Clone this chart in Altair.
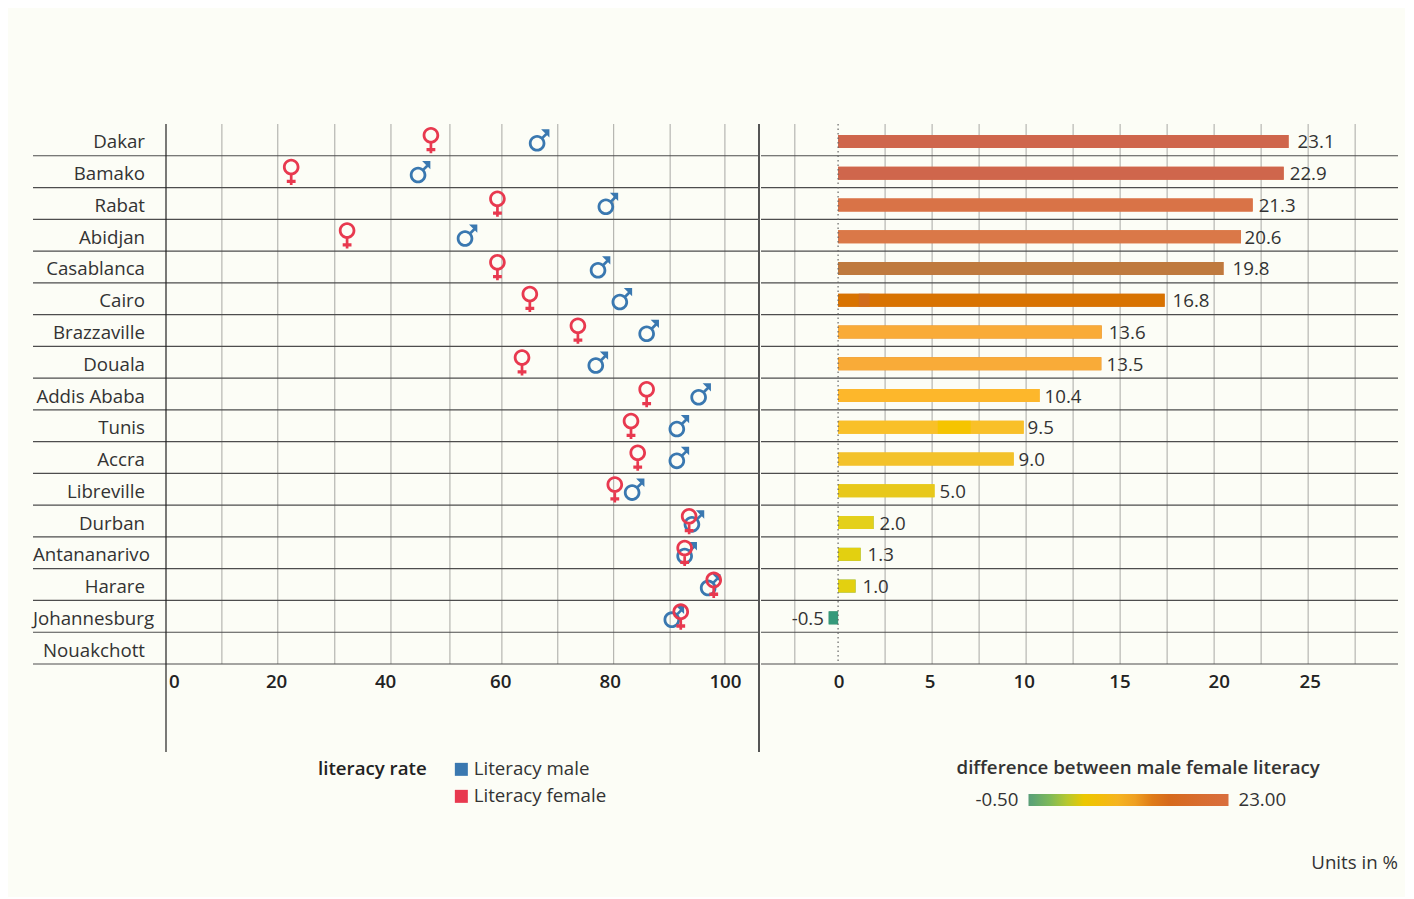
import altair as alt
import pandas as pd

FONT = "Open Sans"
BG = "#fcfdf6"
TXT = "#333333"
FS = 18.7

cities = ["Dakar", "Bamako", "Rabat", "Abidjan", "Casablanca", "Cairo", "Brazzaville", "Douala",
          "Addis Ababa", "Tunis", "Accra", "Libreville", "Durban", "Antananarivo", "Harare",
          "Johannesburg", "Nouakchott"]
long_labels = ["Antananarivo", "Johannesburg"]
female = [47.4, 22.4, 59.3, 32.4, 59.3, 65.1, 73.7, 63.7, 86.0, 83.2, 84.4, 80.3, 93.6, 92.8, 98.0, 92.1, None]
male = [66.4, 45.1, 78.7, 53.5, 77.3, 81.2, 86.0, 76.9, 95.3, 91.4, 91.4, 83.4, 94.1, 92.8, 97.0, 90.5, None]
bar_end = [23.96, 23.7, 22.05, 21.43, 20.5, 17.37, 14.02, 14.0, 10.72, 9.87, 9.34, 5.13, 1.89, 1.2, 0.93, -0.5, None]
label_at = [24.44, 24.02, 22.37, 21.62, 20.98, 17.79, 14.39, 14.28, 10.98, 10.08, 9.6, 5.4, 2.2, 1.57, 1.3, -2.47, None]
bar_text = ["23.1", "22.9", "21.3", "20.6", "19.8", "16.8", "13.6", "13.5", "10.4", "9.5", "9.0", "5.0", "2.0", "1.3", "1.0", "-0.5", ""]
bar_color = ["#cf664c", "#cf664c", "#d97347", "#da7848", "#bf7a3e", "#d87300", "#f9ab38", "#f9ab38", "#fdb72b",
             "#f9c028", "#f3c22a", "#e8c81a", "#e4d01a", "#e3d010", "#e3d010", "#35997a", "#ffffff"]
seg_from = [1.1, 5.3]
seg_to = [1.68, 7.05]
seg_row = ["Cairo", "Tunis"]
seg_color = ["#d16c1c", "#f5c400"]

left_grid = [10, 20, 30.2, 40.25, 50.8, 60.1, 70.1, 80.1, 90.2, 100]
left_ticks = [1.4, 19.7, 39.2, 59.8, 79.4, 100]
right_grid = [-2.3, 2.5, 5, 7.5, 10, 12.5, 15, 17.5, 20, 22.5, 25, 27.5]
right_ticks = [0.03, 4.87, 9.87, 14.97, 20.24, 25.08]
grad_domain = [-0.5, 5.4, 7.3, 11.25, 15.0, 23.0]
grad_range = ["#5a9e78", "#e8cc00", "#f2c000", "#f5ae28", "#d56a15", "#d96f3e"]
series = ["Literacy male", "Literacy female"]
series_color = ["#3a78b0", "#e8394f"]


def ring(cy, o, i):
    return (f"M{o},{cy} A{o},{o} 0 1 1 {-o},{cy} A{o},{o} 0 1 1 {o},{cy} Z "
            f"M{i},{cy} A{i},{i} 0 1 0 {-i},{cy} A{i},{i} 0 1 0 {i},{cy} Z ")


FEMALE_GLYPH = (ring(-4.7, 8.3, 5.5) + "M-1.35,1.5 L1.35,1.5 L1.35,13.3 L-1.35,13.3 Z "
                "M-4.4,8 L4.4,8 L4.4,11.3 L-4.4,11.3 Z")
MALE_GLYPH = (ring(3.3, 8.3, 5.5) + "M3.85,-2.45 L8.55,-7.15 L10.45,-5.25 L5.75,-0.55 Z "
              "M4,-10.7 L12.3,-10.7 L12.3,-2.4 Z")

rows = pd.DataFrame({"city": cities, "end": bar_end, "at": label_at, "txt": bar_text, "hex": bar_color})
points = pd.DataFrame(
    {"city": cities * 2, "series": [series[0]] * 17 + [series[1]] * 17, "rate": male + female}
).dropna()
bars = rows.dropna(subset=["end"])
segs = pd.DataFrame({"city": seg_row, "a": seg_from, "b": seg_to, "hex": seg_color})

W1, W2, H = 593, 637, 540
Yb = alt.Y("city:N", title=None, axis=None, scale=alt.Scale(domain=cities, paddingInner=0, paddingOuter=0))
Yr = alt.Y("city:N", title=None, axis=None, bandPosition=1,
           scale=alt.Scale(domain=cities, paddingInner=0, paddingOuter=0))
X1 = alt.Scale(domain=[0, 106.1], nice=False, zero=False)
X2 = alt.Scale(domain=[-4.1, 29.78], nice=False, zero=False)

row_df = pd.DataFrame({"city": cities})


def row_lines(w, left):
    return alt.Chart(row_df).mark_rule(color="#4d4d4d", strokeWidth=1.2).encode(
        y=Yr, x=alt.value(left), x2=alt.value(w))


axis1 = alt.Axis(values=left_ticks, labelExpr="round(datum.value/20)*20", title=None, domain=False, ticks=False,
                 grid=False, labelPadding=8, labelFontSize=FS, labelFontWeight=600, labelColor="#222222",
                 labelFont=FONT)
axis2 = alt.Axis(values=right_ticks, labelExpr="round(datum.value/5)*5", title=None, domain=False, ticks=False,
                 grid=False, labelPadding=8, labelFontSize=FS, labelFontWeight=600, labelColor="#222222",
                 labelFont=FONT)

# left panel
grid1 = alt.Chart(pd.DataFrame({"g": left_grid})).mark_rule(color="#a8a8a4", strokeWidth=1).encode(
    x=alt.X("g:Q", scale=X1, title=None, axis=axis1), y=alt.value(0), y2=alt.value(H))
legend1 = alt.Legend(title="literacy rate", orient="none", legendX=152, legendY=636, symbolType="square",
                     symbolSize=169, titleOrient="left", titlePadding=25, titleFontSize=FS, titleFontWeight=600,
                     titleFont=FONT, titleColor="#222222", labelFont=FONT, labelFontSize=FS, labelColor=TXT,
                     rowPadding=7, labelOffset=3, titleAnchor="start", symbolStrokeWidth=0)
color1 = alt.Color("series:N", scale=alt.Scale(domain=series, range=series_color), legend=legend1)
base_pts = alt.Chart(points)
male_pts = base_pts.transform_filter(alt.datum.series == series[0]).mark_point(
    shape=MALE_GLYPH, size=4, filled=True, opacity=1).encode(
    x=alt.X("rate:Q", scale=X1, title=None, axis=axis1), y=Yb, color=color1)
female_pts = base_pts.transform_filter(alt.datum.series == series[1]).mark_point(
    shape=FEMALE_GLYPH, size=4, filled=True, opacity=1).encode(
    x=alt.X("rate:Q", scale=X1, title=None, axis=axis1), y=Yb, color=color1)
short = alt.Chart(row_df[~row_df.city.isin(long_labels)]).mark_text(
    align="right", font=FONT, fontSize=FS, color=TXT, dy=2.5).encode(y=Yb, x=alt.value(-21), text="city:N")
longer = alt.Chart(row_df[row_df.city.isin(long_labels)]).mark_text(
    align="left", font=FONT, fontSize=FS, color=TXT, dy=2.5).encode(y=Yb, x=alt.value(-133), text="city:N")
vert_a = alt.Chart(pd.DataFrame({"k": [0]})).mark_rule(color="#222222", strokeWidth=1.2).encode(
    x=alt.value(0), y=alt.value(0), y2=alt.value(628))
vert_b = alt.Chart(pd.DataFrame({"k": [0]})).mark_rule(color="#555555", strokeWidth=2).encode(
    x=alt.value(W1), y=alt.value(0), y2=alt.value(628))
left = alt.layer(grid1, row_lines(W1, -133), vert_a, vert_b, male_pts, female_pts, short, longer).properties(
    width=W1, height=H)

# right panel
X2e = dict(scale=X2, title=None, axis=axis2)
grid2 = alt.Chart(pd.DataFrame({"g": right_grid})).mark_rule(color="#a8a8a4", strokeWidth=1).encode(
    x=alt.X("g:Q", **X2e), y=alt.value(0), y2=alt.value(H))
legend2 = alt.Legend(title=None, orient="none", legendX=267.5, legendY=670, direction="horizontal",
                     gradientLength=200, gradientThickness=12, labelOpacity=0)
under = alt.Chart(bars).mark_bar(size=13, yOffset=1.5).encode(
    x=alt.X("end:Q", **X2e), y=Yb,
    color=alt.Color("end:Q", scale=alt.Scale(domain=grad_domain, range=grad_range), legend=legend2))
over = alt.Chart(bars).mark_bar(size=13, yOffset=1.5).encode(
    x=alt.X("end:Q", **X2e), y=Yb, color=alt.Color("hex:N", scale=None, legend=None))
patch = alt.Chart(segs).mark_bar(size=13, yOffset=1.5).encode(
    x=alt.X("a:Q", **X2e), x2="b:Q", y=Yb, color=alt.Color("hex:N", scale=None, legend=None))
zero = alt.Chart(pd.DataFrame({"z": [0]})).mark_rule(color="#666666", strokeWidth=1.2, strokeDash=[1.5, 3]).encode(
    x=alt.X("z:Q", **X2e), y=alt.value(0), y2=alt.value(H))
values = alt.Chart(bars).mark_text(align="left", font=FONT, fontSize=FS, color=TXT, dy=2.5).encode(
    x=alt.X("at:Q", **X2e), y=Yb, text="txt:N")

notes = pd.DataFrame({
    "t": ["difference between male female literacy", "-0.50", "23.00", "Units in %"],
    "px": [195.5, 214.5, 477.5, 637], "py": [644, 676, 676, 739],
    "a": ["left", "left", "left", "right"], "w": [600, 400, 400, 400]})


def note(i):
    r = notes.iloc[i]
    return alt.Chart(notes.iloc[[i]]).mark_text(
        align=r.a, font=FONT, fontSize=FS, color=TXT, fontWeight=int(r.w)).encode(
        x=alt.value(float(r.px)), y=alt.value(float(r.py)), text="t:N")


right = alt.layer(grid2, row_lines(W2, 0), under, over, patch, zero, values, note(0), note(1), note(2), note(3)
                  ).resolve_scale(color="independent").properties(width=W2, height=H)

chart = alt.hconcat(left, right, spacing=0, padding={"left": 24, "top": 115, "right": 6, "bottom": 24},
                    background=BG).configure_view(stroke=None)
chart.save("out.html", embed_options={"renderer": "svg", "actions": False})
